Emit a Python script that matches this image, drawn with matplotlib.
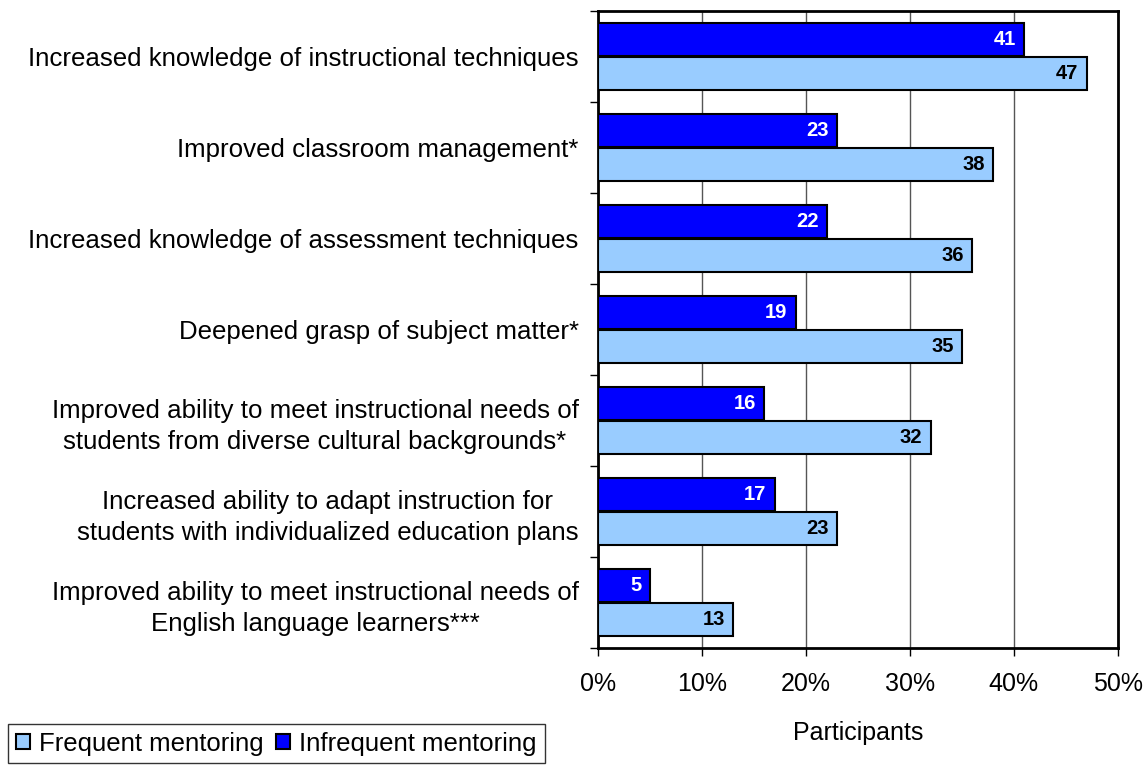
import matplotlib
matplotlib.use("Agg")
import matplotlib.pyplot as plt
import numpy as np
from matplotlib.ticker import FuncFormatter, MultipleLocator

plt.rcParams["font.family"] = ["Liberation Sans", "DejaVu Sans"]

categories = [
    "Increased knowledge of instructional techniques",
    "Improved classroom management*",
    "Increased knowledge of assessment techniques",
    "Deepened grasp of subject matter*",
    "Improved ability to meet instructional needs of\nstudents from diverse cultural backgrounds*",
    "Increased ability to adapt instruction for\nstudents with individualized education plans",
    "Improved ability to meet instructional needs of\nEnglish language learners***",
]
infrequent = [41, 23, 22, 19, 16, 17, 5]
frequent = [47, 38, 36, 35, 32, 23, 13]

DARK = "#0000FF"
LIGHT = "#99CCFF"

fig = plt.figure(figsize=(11.44, 7.65), dpi=100)
ax = fig.add_axes([0.5227, 0.1529, 0.4545, 0.8327])

n = len(categories)
y = np.arange(n)
h = 0.363
off = 0.182
b_inf = ax.barh(y - off, infrequent, height=h, color=DARK, edgecolor="black",
                lw=1.5, label="Infrequent mentoring", zorder=3)
b_frq = ax.barh(y + off, frequent, height=h, color=LIGHT, edgecolor="black",
                lw=1.5, label="Frequent mentoring", zorder=3)

for yi, v in zip(y, infrequent):
    ax.text(v - 0.8, yi - off, f"{v}", ha="right", va="center", color="white",
            fontsize=14.5, fontweight="bold", zorder=4)
for yi, v in zip(y, frequent):
    ax.text(v - 0.8, yi + off, f"{v}", ha="right", va="center", color="black",
            fontsize=14.5, fontweight="bold", zorder=4)

ax.set_xlim(0, 50)
ax.set_ylim(n - 0.5, -0.5)
ax.xaxis.set_major_locator(MultipleLocator(10))
ax.xaxis.set_major_formatter(FuncFormatter(lambda v, p: f"{v:.0f}%"))
ax.grid(axis="x", color="#555555", lw=1, zorder=0)

ax.set_yticks(np.arange(n + 1) - 0.5, minor=False)
ax.set_yticklabels([])
ax.set_yticks(y, minor=True)
ax.set_yticklabels(categories, minor=True, fontsize=18.6,
                   multialignment="center", linespacing=1.35)
ax.tick_params(axis="y", which="minor", length=0, pad=14)
ax.tick_params(axis="y", which="major", length=6, width=1, direction="out")
ax.tick_params(axis="x", length=6, width=1, labelsize=18, pad=11)

for s in ax.spines.values():
    s.set_linewidth(2)

ax.set_xlabel("Participants", fontsize=18, labelpad=18)

handles = [b_frq, b_inf]
leg = fig.legend(handles, ["Frequent mentoring", "Infrequent mentoring"],
                 loc="lower left", bbox_to_anchor=(0.007, 0.002), ncol=2,
                 fontsize=18.5, frameon=True, fancybox=False, edgecolor="black",
                 handlelength=0.55, handleheight=0.55, handletextpad=0.35,
                 columnspacing=0.5, borderpad=0.3, borderaxespad=0.0)
leg.get_frame().set_linewidth(1)

fig.savefig("out.png", dpi=100)
